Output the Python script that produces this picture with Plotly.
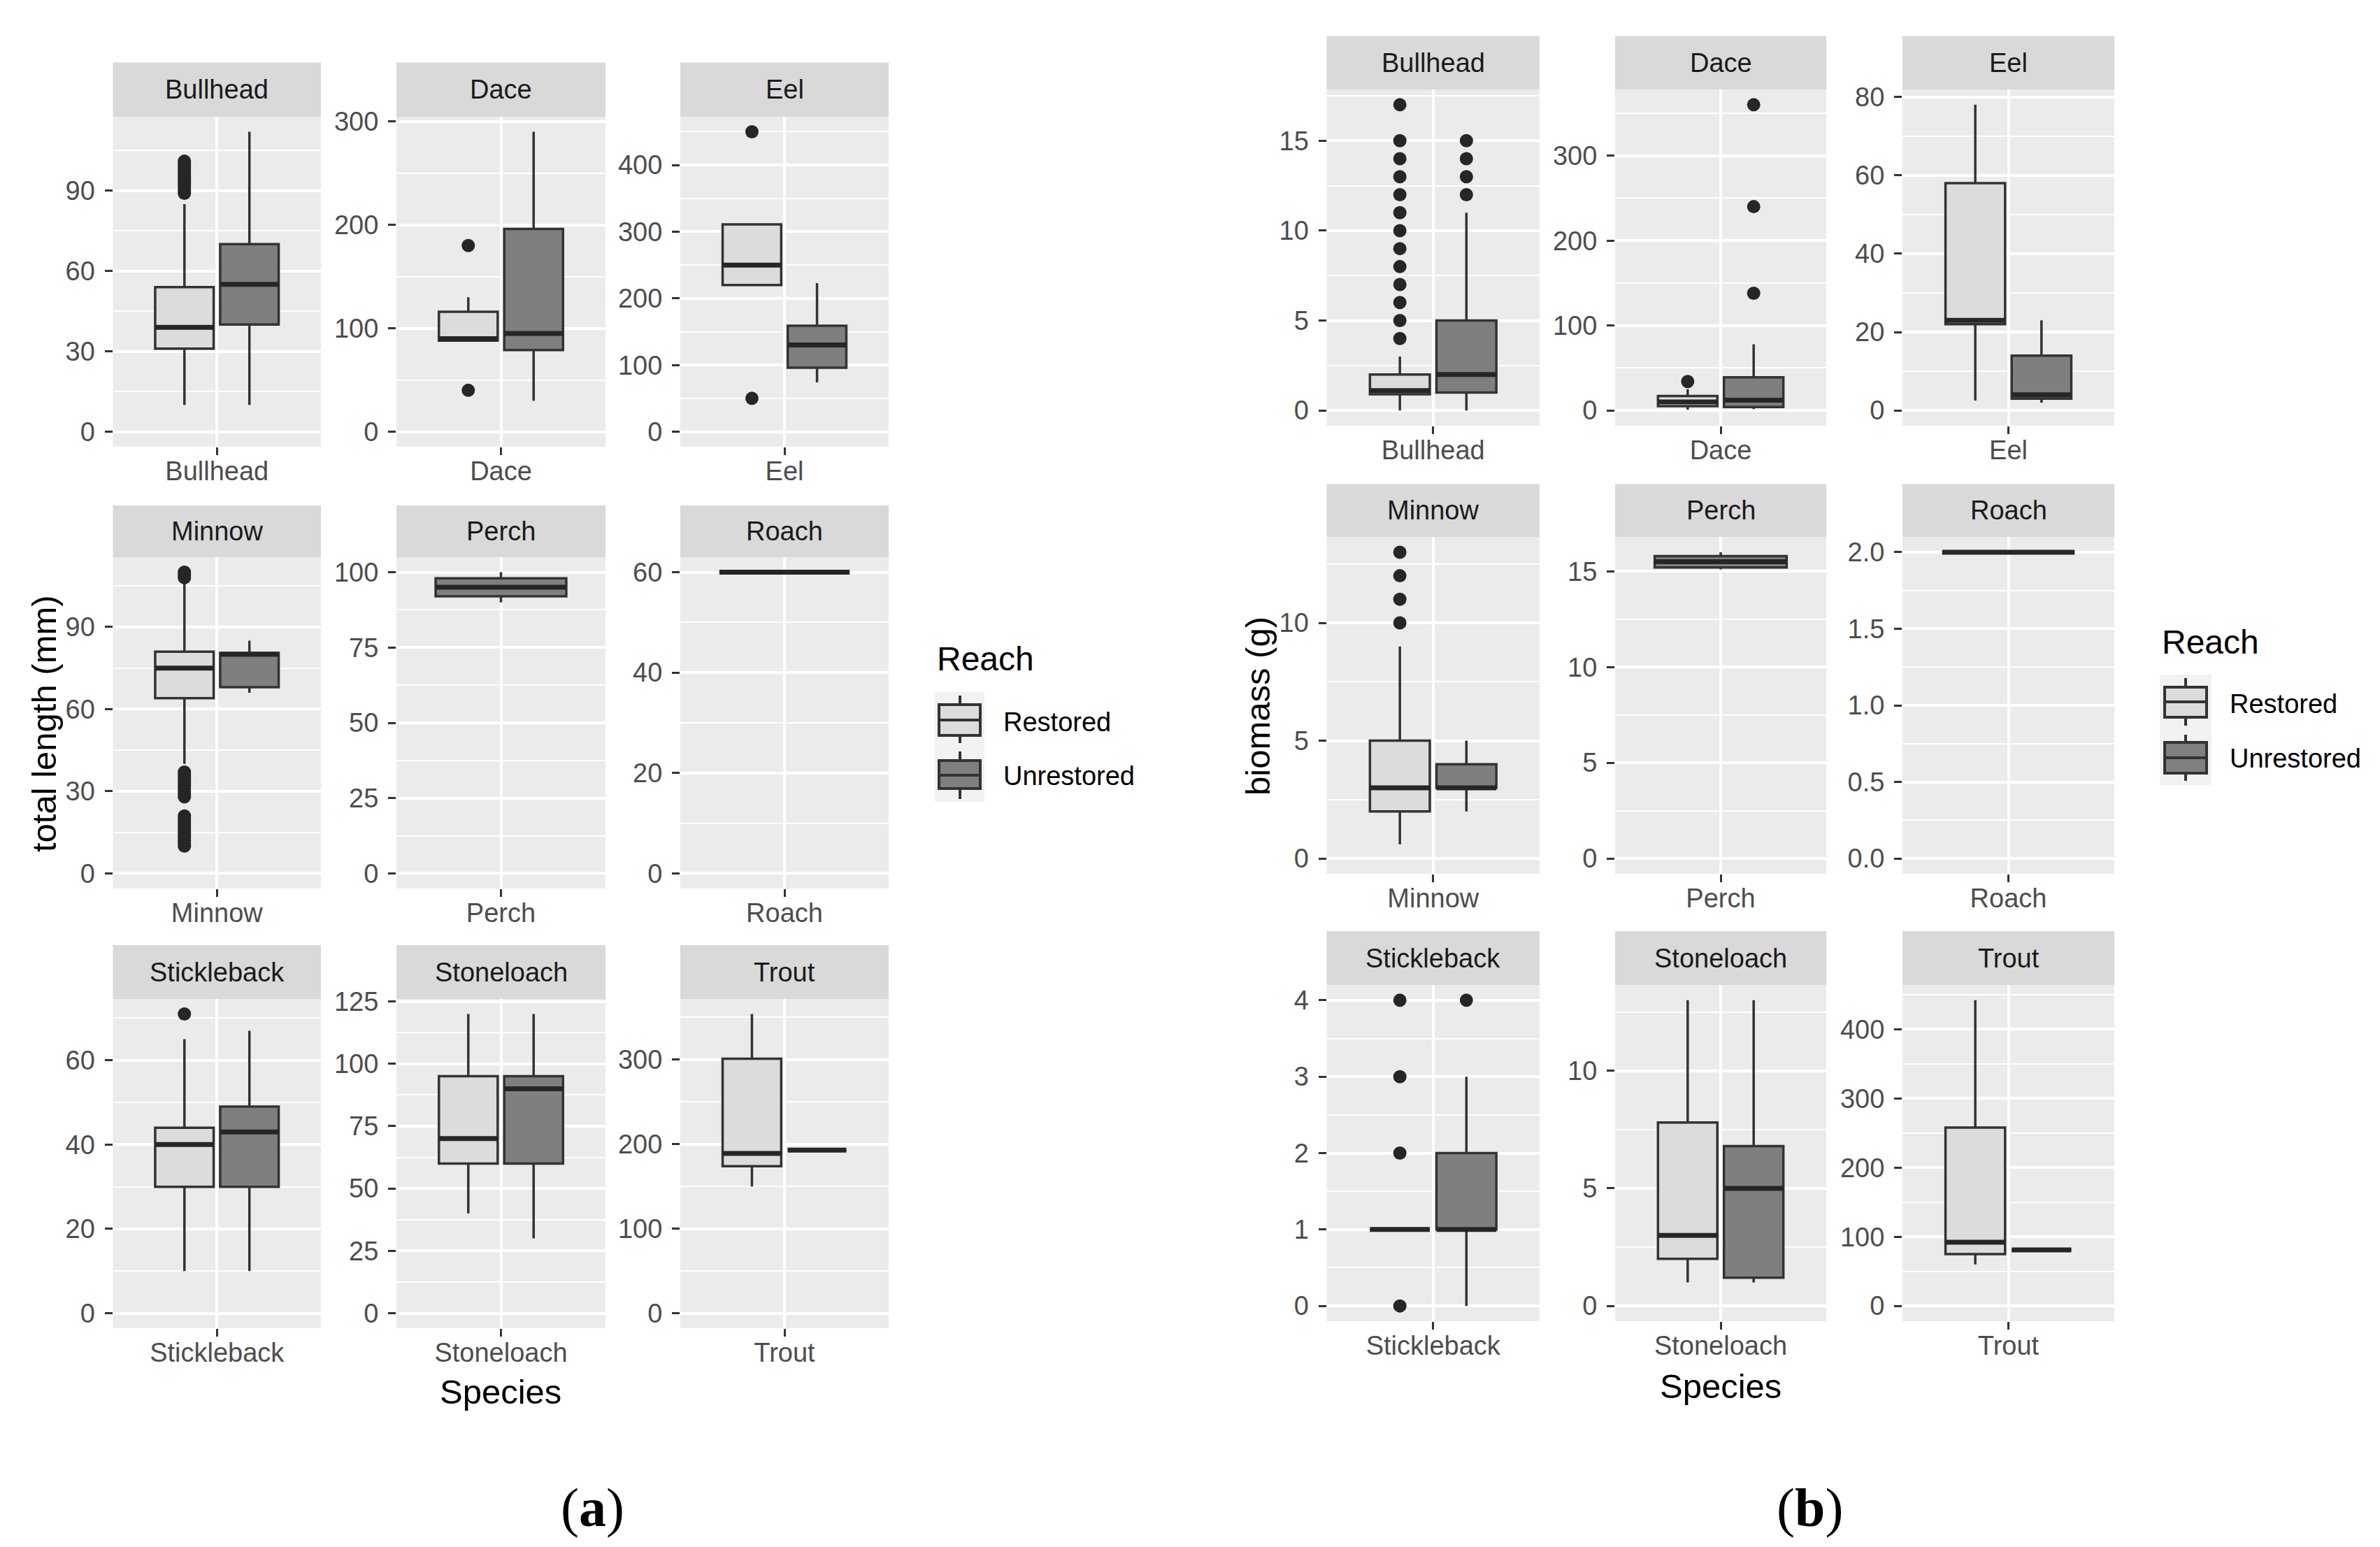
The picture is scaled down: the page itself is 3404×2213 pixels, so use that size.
import plotly.graph_objects as go

W, H = 3404, 2213

SPECIES = ["Bullhead", "Dace", "Eel", "Minnow", "Perch", "Roach",
           "Stickleback", "Stoneloach", "Trout"]
REACHES = ["Restored", "Unrestored"]

# ---------------- panel (a): total length (mm) ----------------
A_RES_Q1 = [31, 88, 220, 64, None, None, 30, 60, 174]
A_RES_MED = [39, 90, 250, 75, None, None, 40, 70, 189]
A_RES_Q3 = [54, 116, 311, 81, None, None, 44, 95, 301]
A_RES_LO = [10, 88, 220, 40, None, None, 10, 40, 150]
A_RES_HI = [85, 130, 311, 106, None, None, 65, 120, 354]
A_RES_OUT = [[89, 90, 91, 92, 93, 94, 95, 96, 97, 98, 99, 100, 101], [40, 180], [50, 450],
             [10, 11, 12, 13, 14, 15, 16, 17, 18, 19, 20, 21,
              28, 29, 30, 31, 32, 33, 34, 35, 36, 37, 108, 109, 110],
             [], [], [71], [], []]

A_UNR_Q1 = [40, 79, 96, 68, 92, 60, 30, 60, 193]
A_UNR_MED = [55, 95, 130, 80, 95, 60, 43, 90, 193]
A_UNR_Q3 = [70, 196, 159, 80.5, 98, 60, 49, 95, 193]
A_UNR_LO = [10, 30, 74, 66, 90, 60, 10, 30, 193]
A_UNR_HI = [112, 290, 223, 85, 100, 60, 67, 120, 193]
A_UNR_OUT = [[], [], [], [], [], [], [], [], []]

A_DTICK = [30, 100, 100, 30, 25, 20, 20, 25, 100]
A_TICKFMT = ["", "", "", "", "", "", "", "", ""]

# ---------------- panel (b): biomass (g) ----------------
B_RES_Q1 = [0.9, 5, 22, 2, None, None, 1, 2, 75]
B_RES_MED = [1.1, 10, 23, 3, None, None, 1, 3, 92]
B_RES_Q3 = [2, 17, 58, 5, None, None, 1, 7.8, 258]
B_RES_LO = [0, 1, 2.5, 0.6, None, None, 1, 1, 60]
B_RES_HI = [3, 25, 78, 9, None, None, 1, 13, 442]
B_RES_OUT = [[4, 5, 6, 7, 8, 9, 10, 11, 12, 13, 14, 15, 17], [34], [],
             [10, 11, 12, 13], [], [], [0, 2, 3, 4], [], []]

B_UNR_Q1 = [1, 4, 3, 3, 15.2, 2, 1, 1.2, 81]
B_UNR_MED = [2, 12, 4, 3, 15.5, 2, 1, 5, 81]
B_UNR_Q3 = [5, 39, 14, 4, 15.8, 2, 2, 6.8, 81]
B_UNR_LO = [0, 1.5, 2, 2, 15.1, 2, 0, 1, 81]
B_UNR_HI = [11, 78, 23, 5, 16, 2, 3, 13, 81]
B_UNR_OUT = [[12, 13, 14, 15], [138, 240, 360], [], [], [], [], [4], [], []]

B_DTICK = [5, 100, 20, 5, 5, 0.5, 1, 5, 100]
B_TICKFMT = ["", "", "", "", "", ".1f", "", "", ""]

Y_TITLES = ["total length (mm)", "biomass (g)"]
X_TITLE = "Species"
LEGEND_TITLE = "Reach"
PANEL_LABELS = ["(<b>a</b>)", "(<b>b</b>)"]

# ---------------- styling ----------------
FILLS = {"Restored": "#DCDCDC", "Unrestored": "#7F7F7F"}
LINE = "#333333"
MEDIAN_COLOR = "#262626"
BG = "#EBEBEB"
STRIP = "#D9D9D9"
FONT = "Liberation Sans, Arial, sans-serif"
TICK_FONT = dict(family=FONT, size=38, color="#4D4D4D")

# layout geometry (pixels)
PANELS = [
    dict(cols=[(161.5, 459), (567, 866), (973, 1271)],
         rows=[(89.5, 167, 639), (723, 797, 1271), (1352, 1429, 1900)],
         stats={"Restored": (A_RES_Q1, A_RES_MED, A_RES_Q3, A_RES_LO, A_RES_HI, A_RES_OUT),
                "Unrestored": (A_UNR_Q1, A_UNR_MED, A_UNR_Q3, A_UNR_LO, A_UNR_HI, A_UNR_OUT)},
         dtick=A_DTICK, fmt=A_TICKFMT,
         ytitle_pos=(63, 1035), xtitle_pos=(716, 1991), label_pos=(847, 2156),
         legend=dict(title=(1338, 943), bg=(1337, 990, 1408, 1147), cx=1373, bx=(1343, 1402),
                     keys=[(995, 1008, 1030, 1052, 1063), (1075, 1088, 1109, 1128, 1143)],
                     lx=1433, ly=[1033, 1110])),
    dict(cols=[(1897.5, 2202), (2310, 2612), (2721, 3024)],
         rows=[(51.5, 128, 609), (692.5, 768, 1250), (1332, 1409, 1890)],
         stats={"Restored": (B_RES_Q1, B_RES_MED, B_RES_Q3, B_RES_LO, B_RES_HI, B_RES_OUT),
                "Unrestored": (B_UNR_Q1, B_UNR_MED, B_UNR_Q3, B_UNR_LO, B_UNR_HI, B_UNR_OUT)},
         dtick=B_DTICK, fmt=B_TICKFMT,
         ytitle_pos=(1799, 1010), xtitle_pos=(2461, 1983), label_pos=(2588, 2156),
         legend=dict(title=(3090, 918), bg=(3089, 965, 3163, 1123), cx=3126, bx=(3096, 3156),
                     keys=[(970, 983, 1004, 1026, 1038), (1051, 1062, 1084, 1106, 1117)],
                     lx=3187, ly=[1007, 1085])),
]


def px(x):
    return x / W


def py(y):
    return 1 - y / H


fig = go.Figure()
layout_axes = {}
shapes = []
annotations = []

n = 0
for p, panel in enumerate(PANELS):
    for i, sp in enumerate(SPECIES):
        n += 1
        suf = "" if n == 1 else str(n)
        xa, ya = "x" + suf, "y" + suf
        r, c = divmod(i, 3)
        x0, x1 = panel["cols"][c]
        st, pt, pb = panel["rows"][r]

        present = [rc for rc in REACHES if panel["stats"][rc][0][i] is not None]
        if len(present) == 2:
            positions, width = [1 - 0.1875, 1 + 0.1875], 0.3375
        else:
            positions, width = [1.0], 0.75

        ymax = 0
        for rc, pos in zip(present, positions):
            q1, med, q3, lo, hi, out = (s[i] for s in panel["stats"][rc])
            ymax = max([ymax, q3, hi] + list(out))
            fig.add_trace(go.Box(
                x=[pos], q1=[q1], median=[med], q3=[q3], lowerfence=[lo], upperfence=[hi],
                width=width, fillcolor=FILLS[rc], line=dict(color=LINE, width=3.5),
                whiskerwidth=0, boxpoints=False, xaxis=xa, yaxis=ya,
                showlegend=False, hoverinfo="skip", name=rc))
            fig.add_trace(go.Scatter(
                x=[pos - width / 2, pos + width / 2], y=[med, med], mode="lines",
                line=dict(color=MEDIAN_COLOR, width=7), xaxis=xa, yaxis=ya,
                showlegend=False, hoverinfo="skip"))
            if out:
                fig.add_trace(go.Scatter(
                    x=[pos] * len(out), y=out, mode="markers",
                    marker=dict(size=19, color=MEDIAN_COLOR), xaxis=xa, yaxis=ya,
                    showlegend=False, hoverinfo="skip", cliponaxis=False))

        dt = panel["dtick"][i]
        layout_axes["xaxis" + suf] = dict(
            domain=[px(x0), px(x1)], anchor=ya, range=[0.4, 1.6],
            tickmode="array", tickvals=[1], ticktext=[sp], automargin=False,
            showgrid=True, gridcolor="white", gridwidth=4, zeroline=False,
            ticks="outside", ticklen=11, tickwidth=2.5, tickcolor=LINE,
            tickfont=TICK_FONT, ticklabelstandoff=-10, fixedrange=True)
        layout_axes["yaxis" + suf] = dict(
            domain=[py(pb), py(pt)], anchor=xa, range=[-0.05 * ymax, 1.05 * ymax],
            tick0=0, dtick=dt, tickformat=panel["fmt"][i], automargin=False,
            showgrid=True, gridcolor="white", gridwidth=4, zeroline=False,
            minor=dict(tick0=0, dtick=dt / 2, showgrid=True, gridcolor="white", gridwidth=2),
            ticks="outside", ticklen=11, tickwidth=2.5, tickcolor=LINE,
            tickfont=TICK_FONT, ticklabelstandoff=6, fixedrange=True)

        # facet strip
        shapes.append(dict(type="rect", xref="paper", yref="paper",
                           x0=px(x0), x1=px(x1), y0=py(pt), y1=py(st),
                           fillcolor=STRIP, line=dict(width=0), layer="below"))
        annotations.append(dict(text=sp, xref="paper", yref="paper",
                                x=px((x0 + x1) / 2), y=py((st + pt) / 2),
                                xanchor="center", yanchor="middle", showarrow=False,
                                font=dict(family=FONT, size=38, color="#1A1A1A")))

    # axis titles
    yx, yy = panel["ytitle_pos"]
    annotations.append(dict(text=Y_TITLES[p], xref="paper", yref="paper", x=px(yx), y=py(yy),
                            textangle=-90, showarrow=False, xanchor="center", yanchor="middle",
                            font=dict(family=FONT, size=49, color="black")))
    tx, ty = panel["xtitle_pos"]
    annotations.append(dict(text=X_TITLE, xref="paper", yref="paper", x=px(tx), y=py(ty),
                            showarrow=False, xanchor="center", yanchor="middle",
                            font=dict(family=FONT, size=49, color="black")))
    lx, ly = panel["label_pos"]
    annotations.append(dict(text=PANEL_LABELS[p], xref="paper", yref="paper", x=px(lx), y=py(ly),
                            showarrow=False, xanchor="center", yanchor="middle",
                            font=dict(family="Liberation Serif, Times New Roman, serif",
                                      size=78, color="black")))

    # legend
    lg = panel["legend"]
    annotations.append(dict(text=LEGEND_TITLE, xref="paper", yref="paper",
                            x=px(lg["title"][0]), y=py(lg["title"][1]),
                            showarrow=False, xanchor="left", yanchor="middle",
                            font=dict(family=FONT, size=48, color="black")))
    bx0, by0, bx1, by1 = lg["bg"]
    shapes.append(dict(type="rect", xref="paper", yref="paper", x0=px(bx0), x1=px(bx1),
                       y0=py(by1), y1=py(by0), fillcolor="#F2F2F2", line=dict(width=0)))
    for rc, (wt, bt, md, bb, wb), lyy in zip(REACHES, lg["keys"], lg["ly"]):
        shapes.append(dict(type="line", xref="paper", yref="paper", x0=px(lg["cx"]), x1=px(lg["cx"]),
                           y0=py(wt), y1=py(bt), line=dict(color=LINE, width=4)))
        shapes.append(dict(type="line", xref="paper", yref="paper", x0=px(lg["cx"]), x1=px(lg["cx"]),
                           y0=py(bb), y1=py(wb), line=dict(color=LINE, width=4)))
        shapes.append(dict(type="rect", xref="paper", yref="paper",
                           x0=px(lg["bx"][0]), x1=px(lg["bx"][1]), y0=py(bb), y1=py(bt),
                           fillcolor=FILLS[rc], line=dict(color=LINE, width=4)))
        shapes.append(dict(type="line", xref="paper", yref="paper",
                           x0=px(lg["bx"][0]), x1=px(lg["bx"][1]), y0=py(md), y1=py(md),
                           line=dict(color=LINE, width=4)))
        annotations.append(dict(text=rc, xref="paper", yref="paper", x=px(lg["lx"]), y=py(lyy),
                                showarrow=False, xanchor="left", yanchor="middle",
                                font=dict(family=FONT, size=38, color="black")))

fig.update_layout(
    width=W, height=H, margin=dict(l=0, r=0, t=0, b=0, pad=0, autoexpand=False),
    paper_bgcolor="white", plot_bgcolor=BG, showlegend=False,
    boxmode="overlay", shapes=shapes, annotations=annotations,
    font=dict(family=FONT), **layout_axes)

fig.write_html("out.html", config={"displayModeBar": False},
               post_script="document.body.style.margin='0';")
